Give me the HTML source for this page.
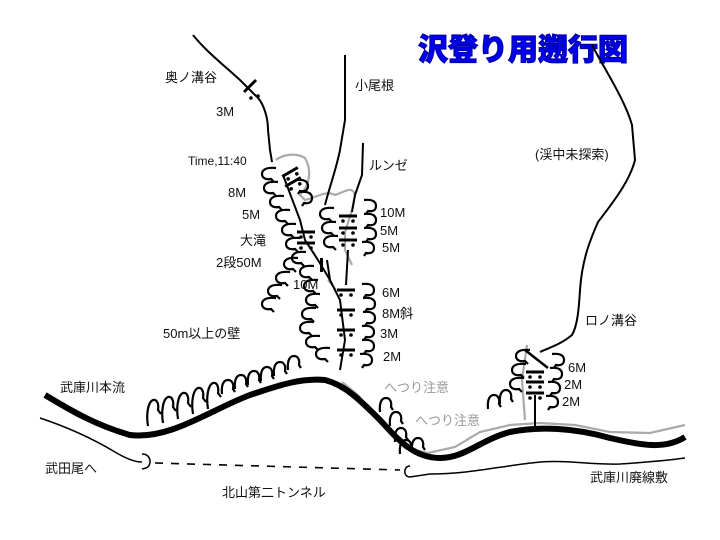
<!DOCTYPE html>
<html><head><meta charset="utf-8"><style>
html,body{margin:0;padding:0;background:#fff;}
svg{display:block}
text{font-family:"Liberation Sans","Noto Sans CJK JP",sans-serif;font-size:13px;fill:#111}
.g{fill:#999}
</style></head><body>
<svg width="720" height="540" viewBox="0 0 720 540" xmlns="http://www.w3.org/2000/svg">
<defs>
<g id="h"><path d="M0,14 C-1,4 2,0 6,0 C10,0 12,4 11,9 L13,12" fill="none" stroke="#000" stroke-width="2.2"/></g>
<g id="ht"><path d="M0,26 C-2,14 0,2 5,0 C9,-1 11,4 10,10 L13,14" fill="none" stroke="#000" stroke-width="2.2"/></g>
<g id="hl"><path d="M14,0 C4,-1 0,2 0,6 C0,10 4,12 9,11 L12,14" fill="none" stroke="#000" stroke-width="2.2"/></g>
<g id="hr"><path d="M0,0 C9,-1 12,2 12,6 C12,10 9,12 4,11 L2,14" fill="none" stroke="#000" stroke-width="2.2"/></g>
<g id="w"><rect x="-9" y="-1.5" width="18" height="3" fill="#000"/><circle cx="-5" cy="5" r="1.8"/><circle cx="5" cy="5" r="1.8"/></g>
</defs>
<!-- title -->
<text x="418" y="60" style="font-size:30px;font-weight:900;fill:#0000ee;stroke:#0000aa;stroke-width:1.2px;letter-spacing:0px">沢登り用遡行図</text>

<!-- gray paths -->
<g fill="none" stroke="#aaa" stroke-width="2.2">
<path d="M342,382 L358,395 L372,412 L390,432 L405,448 L428,453 L455,447 L480,432 L510,425 L540,423 L575,425 L610,432 L650,433 L685,425"/>
<path d="M527,345 L522,380 L525,420"/>
<path d="M276,160 C282,155 295,152 305,158 C312,170 310,185 300,195 L305,200 C318,197 326,190 335,195 C345,192 352,185 355,195 L352,210 L345,232 L345,250 L352,265"/>
<path d="M328,280 L336,290"/>
</g>

<!-- main river -->
<path d="M45,395 C70,410 95,425 130,435 C170,440 210,410 250,395 C280,385 300,378 325,380 C345,385 360,400 380,420 C400,442 415,458 440,458 C465,458 480,440 510,432 C540,426 575,428 610,438 C640,445 665,450 685,437" fill="none" stroke="#000" stroke-width="6" stroke-linejoin="round"/>
<!-- railway -->
<path d="M40,418 C70,428 95,440 115,452 C125,458 135,462 142,462" fill="none" stroke="#000" stroke-width="1.5"/>
<path d="M142,454 C152,454 152,466 146,468 L142,469" fill="none" stroke="#000" stroke-width="1.5"/>
<path d="M155,463 L400,470" fill="none" stroke="#000" stroke-width="1.6" stroke-dasharray="8,8"/>
<path d="M410,466 C403,466 403,477 410,477 L430,474 C470,474 500,466 540,462 C570,460 590,465 620,464 C650,462 670,460 685,458" fill="none" stroke="#000" stroke-width="1.5"/>

<!-- streams -->
<g fill="none" stroke="#000" stroke-width="2">
<path d="M193,35 C205,50 220,62 240,80 L255,95 C262,100 268,115 268,130 L270,150 L272,162"/>
<path d="M244,92 L256,80" stroke-width="3"/>
<path d="M345,55 L345,120 L340,150 C336,170 330,185 325,205"/>
<path d="M363,143 L362,175 L355,195 L352,212"/>
<path d="M592,45 C605,70 625,100 632,125 L635,160 C630,180 615,200 598,222 C590,240 582,260 580,290 C579,305 578,325 572,335 C560,345 548,348 540,352"/>
<path d="M283,175 L300,220 L305,240 L318,260 L330,280 L340,300 L345,340 L340,370"/>
<path d="M327,260 L330,280"/>
<path d="M348,250 L346,285"/>
<path d="M535,395 L535,428"/>
</g>
<circle cx="251" cy="98" r="1.8"/><circle cx="258" cy="96" r="1.8"/>

<!-- waterfalls -->
<use href="#w" x="290" y="172" transform="rotate(-30 290 172)"/>
<use href="#w" x="293" y="182" transform="rotate(-30 293 182)"/>
<use href="#w" x="306" y="232"/><use href="#w" x="306" y="243"/>
<use href="#w" x="348" y="216"/><use href="#w" x="348" y="228"/><use href="#w" x="348" y="240"/>
<rect x="320" y="258" width="3" height="14"/>
<use href="#w" x="346" y="290"/><use href="#w" x="346" y="310"/><use href="#w" x="346" y="330"/><use href="#w" x="346" y="350"/>
<use href="#w" x="535" y="372"/><use href="#w" x="535" y="382"/><use href="#w" x="535" y="393"/>
<path d="M525,350 L548,368" stroke="#000" stroke-width="2.5"/>

<!-- hachures: left bank along main river (tall) -->
<use href="#ht" x="148" y="400"/><use href="#ht" x="163" y="397"/><use href="#ht" x="178" y="393"/>
<use href="#ht" x="193" y="388"/><use href="#ht" x="208" y="383"/>
<use href="#h" x="222" y="380"/><use href="#h" x="235" y="375"/><use href="#h" x="248" y="371"/>
<use href="#h" x="261" y="367"/><use href="#h" x="274" y="362"/><use href="#h" x="288" y="356"/>
<!-- 50m wall diagonal -->
<use href="#hl" x="262" y="298"/><use href="#hl" x="268" y="285"/><use href="#hl" x="276" y="272"/>
<use href="#hl" x="284" y="258"/>
<!-- gorge left side -->
<use href="#hl" x="262" y="168"/><use href="#hl" x="264" y="182"/><use href="#hl" x="270" y="196"/>
<use href="#hl" x="276" y="210"/><use href="#hl" x="282" y="224"/><use href="#hl" x="286" y="238"/>
<use href="#hl" x="292" y="252"/><use href="#hl" x="300" y="266"/><use href="#hl" x="304" y="280"/>
<use href="#hl" x="306" y="294"/><use href="#hl" x="302" y="308"/><use href="#hl" x="300" y="322"/>
<use href="#hl" x="306" y="336"/><use href="#hl" x="316" y="348"/>
<use href="#hl" x="320" y="208"/><use href="#hl" x="322" y="222"/><use href="#hl" x="324" y="236"/>
<!-- gorge right side -->
<use href="#hr" x="296" y="180"/><use href="#hr" x="300" y="192"/>
<use href="#hr" x="364" y="200"/><use href="#hr" x="364" y="214"/><use href="#hr" x="364" y="228"/><use href="#hr" x="362" y="242"/>
<use href="#hr" x="362" y="284"/><use href="#hr" x="363" y="298"/><use href="#hr" x="363" y="312"/>
<use href="#hr" x="362" y="326"/><use href="#hr" x="362" y="340"/><use href="#hr" x="360" y="354"/>
<!-- hachures right of river bend -->
<use href="#h" x="380" y="398"/><use href="#h" x="390" y="412"/><use href="#h" x="395" y="428"/>
<use href="#h" x="400" y="440"/><use href="#h" x="412" y="438"/>
<!-- ロノ溝谷 -->
<use href="#hl" x="516" y="350"/><use href="#hl" x="512" y="364"/><use href="#hl" x="510" y="378"/>
<use href="#hr" x="552" y="354"/><use href="#hr" x="550" y="368"/><use href="#hr" x="548" y="382"/><use href="#hr" x="546" y="396"/>
<use href="#h" x="488" y="395"/><use href="#h" x="500" y="390"/>

<!-- labels -->
<text x="165" y="82">奥ノ溝谷</text>
<text x="216" y="116">3M</text>
<text x="355" y="90">小尾根</text>
<text x="188" y="165" style="font-size:12px">Time,11:40</text>
<text x="369" y="170">ルンゼ</text>
<text x="535" y="159">(渓中未探索)</text>
<text x="228" y="197">8M</text>
<text x="242" y="219">5M</text>
<text x="240" y="245">大滝</text>
<text x="216" y="267">2段50M</text>
<text x="293" y="289">10M</text>
<text x="380" y="217">10M</text>
<text x="380" y="235">5M</text>
<text x="382" y="252">5M</text>
<text x="382" y="297">6M</text>
<text x="382" y="318">8M斜</text>
<text x="380" y="338">3M</text>
<text x="383" y="361">2M</text>
<text x="163" y="338">50m以上の壁</text>
<text x="585" y="325">ロノ溝谷</text>
<text x="568" y="372">6M</text>
<text x="564" y="389">2M</text>
<text x="562" y="406">2M</text>
<text x="60" y="392">武庫川本流</text>
<text x="384" y="392" class="g">へつり注意</text>
<text x="415" y="425" class="g">へつり注意</text>
<text x="45" y="473">武田尾へ</text>
<text x="222" y="497">北山第二トンネル</text>
<text x="590" y="482">武庫川廃線敷</text>
</svg>
</body></html>
